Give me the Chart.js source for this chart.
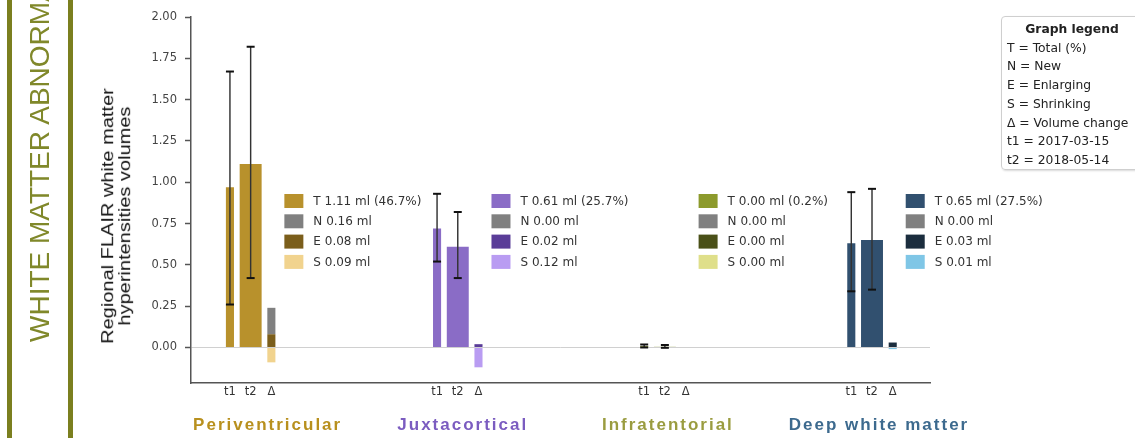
<!DOCTYPE html>
<html>
<head>
<meta charset="utf-8">
<script src="https://cdn.jsdelivr.net/npm/chart.js@4"></script>
<style>
  body { margin: 0; background: #fff; overflow: hidden; }
  #wrap { position: relative; width: 1135px; height: 438px; }
  #chart { position: absolute; left: 0; top: 0; }
  .bar { position: absolute; top: 0; width: 5px; height: 438px; background: #7b7f1f; }
  #section {
    position: absolute; left: 24px; top: 342px; transform-origin: 0 0; transform: rotate(-90deg);
    font: 28px "Liberation Sans", Arial, sans-serif; color: #80882a; white-space: nowrap; line-height: 32px;
  }
  #ytitle {
    position: absolute; left: 99px; top: 216px; transform-origin: 0 0;
    transform: rotate(-90deg) translate(-50%, 0) scale(1, 0.85);
    font: 20px "Liberation Sans", Arial, sans-serif; color: #111; white-space: nowrap; line-height: 20px; text-align: center;
  }
  #key {
    position: absolute; left: 1001px; top: 16px; width: 142px; height: 154px; box-sizing: border-box;
    border: 1px solid #cfcfcf; border-radius: 4px; box-shadow: 1px 1px 2px rgba(0,0,0,0.15);
    padding: 3px 0 0 5px; font: 12.3px "DejaVu Sans", sans-serif; color: #222; line-height: 18.7px; white-space: nowrap;
  }
  #key b { display: block; text-align: center; padding-right: 5px; }
</style>
</head>
<body>
<div id="wrap">
  <canvas id="chart" width="1135" height="438"></canvas>
  <div class="bar" style="left:7px"></div>
  <div class="bar" style="left:68px"></div>
  <div id="section">WHITE MATTER ABNORMALITIES</div>
  <div id="ytitle">Regional FLAIR white matter<br>hyperintensities volumes</div>
  <div id="key">
    <b>Graph legend</b>
    T = Total (%)<br>
    N = New<br>
    E = Enlarging<br>
    S = Shrinking<br>
    Δ = Volume change<br>
    t1 = 2017-03-15<br>
    t2 = 2018-05-14
  </div>
</div>
<script>
var groupNames = ['Periventricular', 'Juxtacortical', 'Infratentorial', 'Deep white matter'];
var tickLabels = ['t1', 't2', 'Δ'];
var yTickValues = [0, 0.25, 0.5, 0.75, 1.0, 1.25, 1.5, 1.75, 2.0];

var t1Volume = [0.97, 0.72, 0.008, 0.63];
var t2Volume = [1.11, 0.61, 0.004, 0.65];
var t1ErrLow = [0.26, 0.52, 0.0, 0.34];
var t1ErrHigh = [1.67, 0.93, 0.018, 0.94];
var t2ErrLow = [0.42, 0.42, -0.002, 0.35];
var t2ErrHigh = [1.82, 0.82, 0.015, 0.96];
var newVolume = [0.16, 0.00, 0.00, 0.00];
var enlargingVolume = [0.08, 0.02, 0.00, 0.03];
var shrinkingVolume = [0.09, 0.12, 0.00, 0.01];
var totalPercent = [46.7, 25.7, 0.2, 27.5];

// colours per region: total, enlarging, shrinking, and the title text
var totalColors = ['#b8912c', '#8a6cc6', '#8c9a2c', '#31506f'];
var enlargeColors = ['#7b5e1b', '#5a3d98', '#4a5018', '#1b2d3e'];
var shrinkColors = ['#f1d38e', '#b99cf2', '#dfdf8a', '#7fc6e6'];
var titleColors = ['#b8901e', '#7b5cc0', '#9a9c40', '#3d6a8e'];
var newColor = '#808080';
var labelShift = [17, 5, 3, 7];

// each region takes 10 x-units: t1 at +0, t2 at +1, delta at +2
function pos(g, k) { return g * 10 + k; }

var tickPositions = [];
groupNames.forEach(function (g, i) { tickPositions.push(pos(i, 0), pos(i, 1), pos(i, 2)); });

function pts(vals, k) { return vals.map(function (v, i) { return { x: pos(i, k), y: v }; }); }
function range(lo, hi, k) { return lo.map(function (v, i) { return { x: pos(i, k), y: [v, hi[i]] }; }); }

var caps = [];
groupNames.forEach(function (g, i) {
    caps.push({ x: pos(i, 0), y: t1ErrLow[i] }, { x: pos(i, 0), y: t1ErrHigh[i] });
    caps.push({ x: pos(i, 1), y: t2ErrLow[i] }, { x: pos(i, 1), y: t2ErrHigh[i] });
});

var barBase = { type: 'bar', grouped: false, categoryPercentage: 1, borderWidth: 0, order: 2 };

var datasets = [
    Object.assign({}, barBase, { label: 't1', data: pts(t1Volume, 0), backgroundColor: totalColors, barPercentage: 0.39 }),
    Object.assign({}, barBase, { label: 't2', data: pts(t2Volume, 1), backgroundColor: totalColors, barPercentage: 1.06 }),
    Object.assign({}, barBase, { label: 'E', data: pts(enlargingVolume, 2), backgroundColor: enlargeColors, barPercentage: 0.39 }),
    Object.assign({}, barBase, {
        label: 'N',
        data: enlargingVolume.map(function (e, i) { return { x: pos(i, 2), y: [e, e + newVolume[i]] }; }),
        backgroundColor: newColor, barPercentage: 0.39
    }),
    Object.assign({}, barBase, {
        label: 'S',
        data: shrinkingVolume.map(function (s, i) { return { x: pos(i, 2), y: -s }; }),
        backgroundColor: shrinkColors, barPercentage: 0.39
    }),
    Object.assign({}, barBase, { label: 'err t1', data: range(t1ErrLow, t1ErrHigh, 0), backgroundColor: '#333', barPercentage: 0.07, order: 1 }),
    Object.assign({}, barBase, { label: 'err t2', data: range(t2ErrLow, t2ErrHigh, 1), backgroundColor: '#333', barPercentage: 0.07, order: 1 }),
    {
        type: 'line', label: 'caps', data: caps, showLine: false, order: 0,
        pointStyle: 'line', pointRadius: 4, pointBorderWidth: 2, pointBorderColor: '#111', borderColor: '#111'
    }
];

var regionText = {
    id: 'regionText',
    afterDatasetsDraw: function (chart) {
        var ctx = chart.ctx, xs = chart.scales.x, area = chart.chartArea;
        ctx.save();
        groupNames.forEach(function (name, i) {
            var x0 = xs.getPixelForValue(pos(i, 2)) + 13;
            var rows = [
                [totalColors[i], 'T ' + t2Volume[i].toFixed(2) + ' ml (' + totalPercent[i].toFixed(1) + '%)'],
                [newColor, 'N ' + newVolume[i].toFixed(2) + ' ml'],
                [enlargeColors[i], 'E ' + enlargingVolume[i].toFixed(2) + ' ml'],
                [shrinkColors[i], 'S ' + shrinkingVolume[i].toFixed(2) + ' ml']
            ];
            rows.forEach(function (r, j) {
                var y = area.top + 177 + j * 20.3;
                ctx.fillStyle = r[0];
                ctx.fillRect(x0, y, 19, 14);
                ctx.fillStyle = '#333';
                ctx.font = '12px "DejaVu Sans"';
                ctx.textBaseline = 'middle';
                ctx.textAlign = 'left';
                ctx.fillText(r[1], x0 + 29, y + 7.5);
            });

            ctx.font = 'bold 17px "Liberation Sans"';
            ctx.letterSpacing = '2px';
            ctx.fillStyle = titleColors[i];
            ctx.textAlign = 'center';
            ctx.fillText(name, xs.getPixelForValue(pos(i, 1)) + labelShift[i], 425);
            ctx.letterSpacing = '0px';
        });
        ctx.restore();
    }
};

var chart = new Chart(document.getElementById('chart').getContext('2d'), {
    data: { datasets: datasets },
    options: {
        responsive: false,
        animation: false,
        layout: { padding: { left: 0, top: 17, right: 205, bottom: 0 } },
        plugins: { legend: { display: false }, tooltip: { enabled: false } },
        scales: {
            x: {
                type: 'linear', min: -1.88, max: 33.8, offset: false,
                grid: { display: false, drawTicks: false, offset: false },
                border: { display: true, color: '#555', width: 1.5 },
                afterBuildTicks: function (s) { s.ticks = tickPositions.map(function (v) { return { value: v }; }); },
                afterFit: function (s) { s.height = 55; },
                ticks: {
                    autoSkip: false, maxRotation: 0, padding: 2, color: '#333',
                    font: { family: 'DejaVu Sans', size: 11.5 },
                    callback: function (v, i) { return tickLabels[i % 3]; }
                }
            },
            y: {
                min: -0.215, max: 2.0,
                grid: {
                    color: function (c) { return c.tick && c.tick.value === 0 ? '#d0d0d0' : 'rgba(0,0,0,0)'; },
                    tickColor: '#555', tickLength: 6, tickWidth: 1.5, drawTicks: true
                },
                border: { display: true, color: '#555', width: 1.5 },
                afterBuildTicks: function (s) { s.ticks = yTickValues.map(function (v) { return { value: v }; }); },
                afterFit: function (s) { s.width = 191; },
                ticks: {
                    padding: 8, color: '#444',
                    font: { family: 'DejaVu Sans', size: 11.5 },
                    callback: function (v) { return Number(v).toFixed(2); }
                }
            }
        }
    },
    plugins: [regionText]
});
</script>
</body>
</html>
